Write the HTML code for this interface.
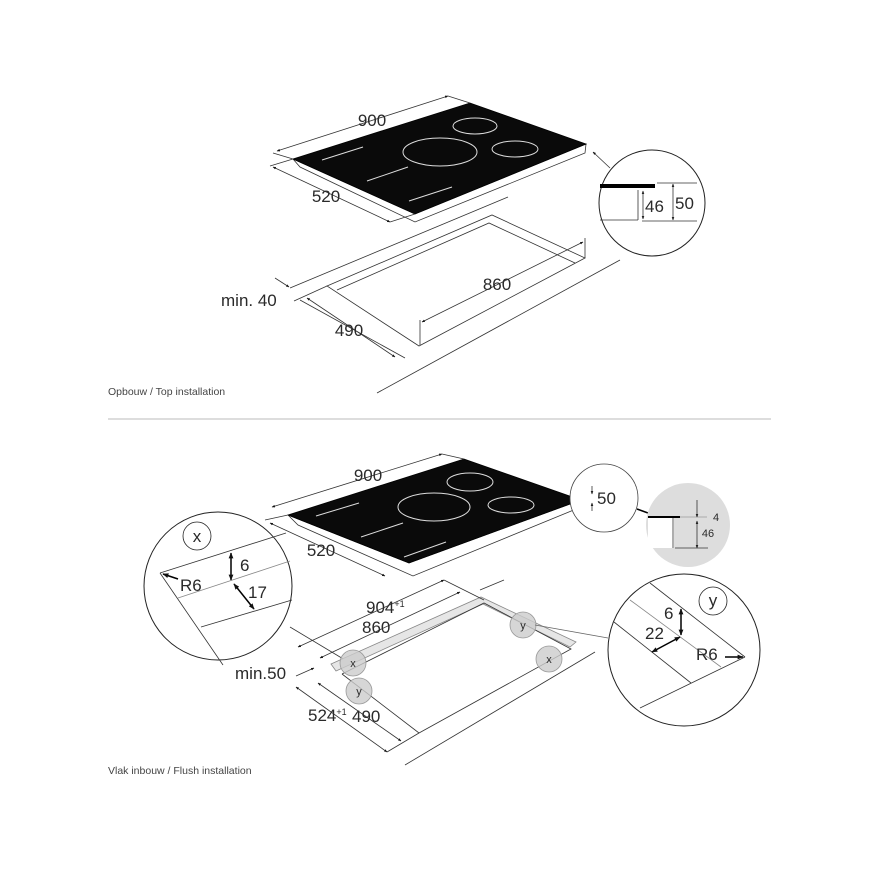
<!DOCTYPE html>
<html><head><meta charset="utf-8"><style>
html,body{margin:0;padding:0;background:#fff}
svg{display:block}
text{font-family:"Liberation Sans",sans-serif;fill:#2a2a2a}
</style></head><body>
<svg width="880" height="880" viewBox="0 0 880 880" xmlns="http://www.w3.org/2000/svg">
<defs>
<marker id="s" viewBox="0 0 10 10" refX="9" refY="5" markerWidth="4" markerHeight="4" orient="auto-start-reverse"><path d="M0,1 L10,5 L0,9 z" fill="#111"/></marker>
</defs>
<g stroke="#333" stroke-width="0.8" fill="none">
<polygon points="293,159 300,167 415,222 585,153 586,144 415,214" fill="#fff"/>
<polygon points="293,159 470,103 586,144 415,214" fill="#0a0a0a" stroke="#000"/>
<g stroke="#ddd" stroke-width="1">
<ellipse cx="475" cy="126" rx="22" ry="8"/>
<ellipse cx="440" cy="152" rx="37" ry="14"/>
<ellipse cx="515" cy="149" rx="23" ry="8"/>
<line x1="322" y1="160" x2="363" y2="147"/>
<line x1="367" y1="181" x2="408" y2="167"/>
<line x1="409" y1="201" x2="452" y2="187"/>
</g>
<line x1="277" y1="151" x2="448" y2="96" marker-start="url(#s)" marker-end="url(#s)"/>
<line x1="273" y1="153" x2="293" y2="159"/>
<line x1="448" y1="96" x2="470" y2="103"/>
<line x1="273" y1="167" x2="390" y2="222" marker-start="url(#s)" marker-end="url(#s)"/>
<line x1="270" y1="166" x2="293" y2="159"/>
<line x1="390" y1="222" x2="415" y2="214"/>
<line x1="290" y1="288" x2="508" y2="197"/>
<polygon points="327,286 492,215 585,258 419,346"/>
<polyline points="337,290 489,223 575,263"/>
<line x1="294" y1="301" x2="327" y2="286"/>
<line x1="377" y1="393" x2="620" y2="260"/>
<line x1="300" y1="300" x2="405" y2="358"/>
<line x1="307" y1="298" x2="395" y2="357" marker-start="url(#s)" marker-end="url(#s)"/>
<line x1="422" y1="322" x2="583" y2="242" marker-start="url(#s)" marker-end="url(#s)"/>
<line x1="420" y1="320" x2="420" y2="345"/>
<line x1="585" y1="238" x2="585" y2="258"/>
<line x1="275" y1="278" x2="289" y2="287" marker-end="url(#s)"/>
<line x1="593" y1="152" x2="610" y2="168" marker-start="url(#s)"/>
<circle cx="652" cy="203" r="53" stroke="#222" stroke-width="1" fill="#fff"/>
<rect x="600" y="184" width="55" height="4" fill="#000" stroke="none"/>
<line x1="657" y1="183" x2="697" y2="183"/>
<line x1="600" y1="220" x2="638" y2="220"/>
<line x1="642" y1="221" x2="697" y2="221"/>
<line x1="638" y1="190" x2="638" y2="220"/>
<line x1="643" y1="191" x2="643" y2="219" marker-start="url(#s)" marker-end="url(#s)"/>
<line x1="673" y1="184" x2="673" y2="220" marker-start="url(#s)" marker-end="url(#s)"/>
</g>
<g font-size="17">
<text x="372" y="126" text-anchor="middle">900</text>
<text x="326" y="202" text-anchor="middle">520</text>
<text x="497" y="290" text-anchor="middle">860</text>
<text x="349" y="336" text-anchor="middle">490</text>
<text x="221" y="306">min. 40</text>
<text x="645" y="212">46</text>
<text x="675" y="209">50</text>
</g>
<text x="108" y="395" font-size="10.5" style="fill:#444">Opbouw / Top installation</text>
<line x1="108" y1="419" x2="771" y2="419" stroke="#bbb" stroke-width="1"/>

<g stroke="#333" stroke-width="0.8" fill="none">
<polygon points="288,515 298,525 413,576 581,507 581,500 409,563" fill="#fff"/>
<polygon points="288,515 464,459 581,500 409,563" fill="#0a0a0a" stroke="#000"/>
<g stroke="#ddd" stroke-width="1">
<ellipse cx="470" cy="482" rx="23" ry="9"/>
<ellipse cx="434" cy="507" rx="36" ry="14"/>
<ellipse cx="511" cy="505" rx="23" ry="8"/>
<line x1="316" y1="516" x2="359" y2="503"/>
<line x1="361" y1="537" x2="403" y2="523"/>
<line x1="404" y1="557" x2="446" y2="542"/>
</g>
<line x1="272" y1="507" x2="442" y2="454" marker-start="url(#s)" marker-end="url(#s)"/>
<line x1="442" y1="454" x2="464" y2="459"/>
<line x1="270" y1="523" x2="385" y2="576" marker-start="url(#s)" marker-end="url(#s)"/>
<line x1="265" y1="520" x2="288" y2="515"/>
<circle cx="604" cy="498" r="34" stroke="#444" fill="#fff"/>
<line x1="592" y1="486" x2="592" y2="494" marker-end="url(#s)"/>
<line x1="592" y1="511" x2="592" y2="503" marker-end="url(#s)"/>
<line x1="637" y1="509" x2="648" y2="513" stroke="#000" stroke-width="1.5"/>
<circle cx="688" cy="525" r="42" fill="#ddd" stroke="none"/>
<rect x="648" y="518" width="26" height="30" fill="#fff" stroke="none"/>
<line x1="648" y1="517" x2="680" y2="517" stroke="#000" stroke-width="2"/>
<line x1="680" y1="517" x2="707" y2="517" stroke="#999"/>
<line x1="673" y1="518" x2="673" y2="548"/>
<line x1="675" y1="548" x2="708" y2="548"/>
<line x1="697" y1="500" x2="697" y2="517" marker-end="url(#s)"/>
<line x1="697" y1="521" x2="697" y2="548" marker-start="url(#s)" marker-end="url(#s)"/>
<line x1="290" y1="627" x2="345" y2="660"/>
<line x1="480" y1="590" x2="504" y2="580"/>
<line x1="595" y1="652" x2="405" y2="765"/>
<polygon points="331,664 481,597 576,642 570,647 483,604 336,671" fill="#e6e6e6" stroke="#888"/>
<polyline points="342,674 484,603 571,649 419,733 342,674"/>
<line x1="298" y1="647" x2="444" y2="580" marker-start="url(#s)" marker-end="url(#s)"/>
<line x1="320" y1="658" x2="460" y2="592" marker-start="url(#s)" marker-end="url(#s)"/>
<line x1="444" y1="580" x2="484" y2="600"/>
<line x1="296" y1="687" x2="387" y2="752" marker-start="url(#s)" marker-end="url(#s)"/>
<line x1="318" y1="683" x2="401" y2="741" marker-start="url(#s)" marker-end="url(#s)"/>
<line x1="387" y1="752" x2="419" y2="733"/>
<line x1="296" y1="676" x2="314" y2="668" marker-end="url(#s)"/>
<g fill="#ccc" fill-opacity="0.8" stroke="#999">
<circle cx="353" cy="663" r="13"/><circle cx="359" cy="691" r="13"/>
<circle cx="523" cy="625" r="13"/><circle cx="549" cy="659" r="13"/>
</g>
<line x1="535" y1="625" x2="608" y2="638" stroke="#666"/>
<circle cx="218" cy="586" r="74" stroke="#222" stroke-width="1" fill="#fff"/>
<circle cx="197" cy="536" r="14" stroke="#222"/>
<line x1="160" y1="573" x2="286" y2="533"/>
<line x1="178" y1="598" x2="290" y2="561" stroke="#888"/>
<line x1="201" y1="627" x2="292" y2="600"/>
<line x1="160" y1="573" x2="223" y2="665"/>
<line x1="231" y1="553" x2="231" y2="580" stroke="#000" stroke-width="1.5" marker-start="url(#s)" marker-end="url(#s)"/>
<line x1="234" y1="584" x2="254" y2="609" stroke="#000" stroke-width="1.5" marker-start="url(#s)" marker-end="url(#s)"/>
<line x1="178" y1="579" x2="163" y2="574" stroke="#000" stroke-width="1.5" marker-end="url(#s)"/>
<circle cx="684" cy="650" r="76" stroke="#222" stroke-width="1" fill="#fff"/>
<circle cx="713" cy="601" r="14" stroke="#222"/>
<line x1="650" y1="583" x2="745" y2="657"/>
<line x1="630" y1="600" x2="721" y2="667" stroke="#888"/>
<line x1="614" y1="622" x2="691" y2="683"/>
<line x1="640" y1="708" x2="745" y2="657"/>
<line x1="681" y1="635" x2="681" y2="609" stroke="#000" stroke-width="1.5" marker-start="url(#s)" marker-end="url(#s)"/>
<line x1="652" y1="652" x2="680" y2="637" stroke="#000" stroke-width="1.5" marker-start="url(#s)" marker-end="url(#s)"/>
<line x1="725" y1="657" x2="743" y2="657" stroke="#000" stroke-width="1.5" marker-end="url(#s)"/>
</g>
<g font-size="17">
<text x="368" y="481" text-anchor="middle">900</text>
<text x="321" y="556" text-anchor="middle">520</text>
<text x="597" y="504">50</text>
<text x="366" y="613">904<tspan font-size="9" dy="-6">+1</tspan></text>
<text x="362" y="633">860</text>
<text x="235" y="679">min.50</text>
<text x="308" y="721">524<tspan font-size="9" dy="-6">+1</tspan></text>
<text x="352" y="722">490</text>
<text x="240" y="571">6</text>
<text x="248" y="598">17</text>
<text x="180" y="591">R6</text>
<text x="664" y="619">6</text>
<text x="645" y="639">22</text>
<text x="696" y="660">R6</text>
<text x="197" y="542" text-anchor="middle">x</text>
<text x="713" y="606" text-anchor="middle">y</text>
</g>
<g font-size="11" text-anchor="middle" style="fill:#555">
<text x="716" y="521">4</text>
<text x="708" y="537">46</text>
<text x="353" y="667">x</text><text x="359" y="695">y</text>
<text x="523" y="629">y</text><text x="549" y="663">x</text>
</g>
<text x="108" y="774" font-size="10.5" style="fill:#444">Vlak inbouw / Flush installation</text>
</svg>
</body></html>
